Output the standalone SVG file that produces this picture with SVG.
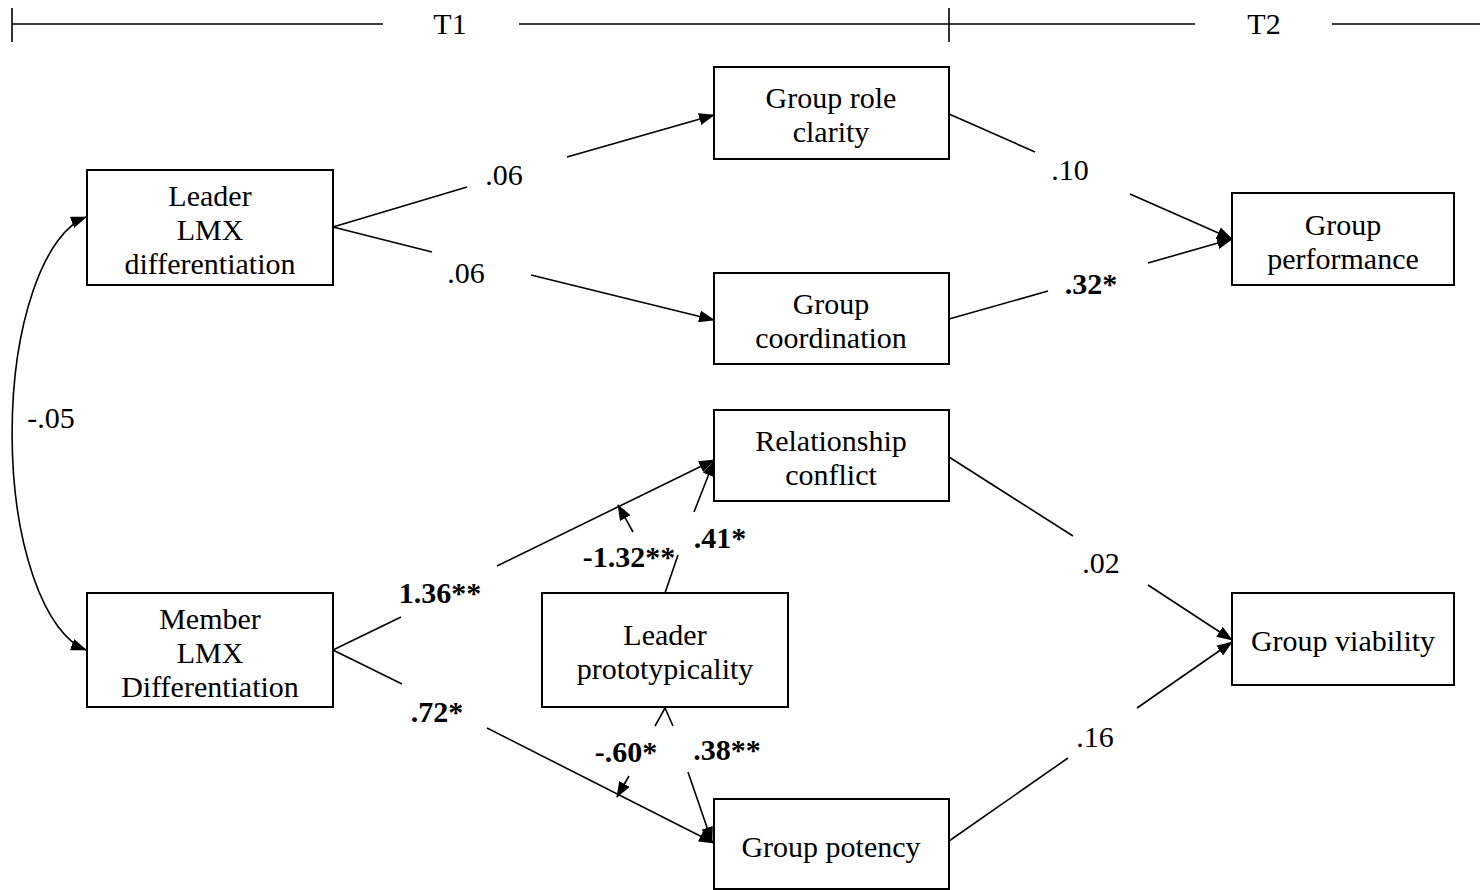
<svg xmlns="http://www.w3.org/2000/svg" width="1480" height="890" viewBox="0 0 1480 890">
<style>
.box{fill:#fff;stroke:#000;stroke-width:2}
.ln{fill:none;stroke:#000;stroke-width:1.6}
.arr{marker-end:url(#ah)}
text{font-family:"Liberation Serif","Times New Roman",serif;font-size:30px;fill:#000;text-anchor:middle}
.b{font-weight:bold}
</style>
<defs>
<marker id="ah" viewBox="0 0 16 12" markerWidth="16" markerHeight="12" refX="15" refY="6" orient="auto-start-reverse" markerUnits="userSpaceOnUse">
<path d="M0,0 L16,6 L0,12 z" fill="#000"/>
</marker>
</defs>
<rect width="1480" height="890" fill="#fff"/>
<g id="timeline">
<path class="ln" d="M12,24 H383 M519,24 H1195 M1332,24 H1480 M12,8 V42 M949,8 V42"/>
<text x="450" y="34">T1</text>
<text x="1264" y="34">T2</text>
</g>
<g id="connectors">
<path class="ln" d="M333,227 L467,187"/>
<path class="ln arr" d="M567,157 L714,115"/>
<path class="ln" d="M333,227 L432,252"/>
<path class="ln arr" d="M531,275 L714,320"/>
<path class="ln" d="M949,114 L1035,152"/>
<path class="ln arr" d="M1130,194 L1232,239"/>
<path class="ln" d="M949,319 L1048,291"/>
<path class="ln arr" d="M1148,263 L1232,239"/>
<path class="ln" d="M949,457 L1073,536"/>
<path class="ln arr" d="M1148,585 L1232,640"/>
<path class="ln" d="M949,841 L1068,758"/>
<path class="ln arr" d="M1137,708 L1232,642"/>
<path class="ln" d="M333,650 L401,617"/>
<path class="ln arr" d="M497,566 L714,460"/>
<path class="ln" d="M333,650 L402,684"/>
<path class="ln arr" d="M487,728 L714,843"/>
<path class="ln" d="M665,593 L678,555"/>
<path class="ln arr" d="M633,532 L618,505"/>
<path class="ln arr" d="M694,512 L714,461"/>
<path class="ln" d="M655,726 L665,708 L673,726"/>
<path class="ln arr" d="M629,776 L617,797"/>
<path class="ln arr" d="M688,772 L712,842"/>
<path class="ln" d="M86,217 A87 219 0 0 0 86,650" marker-start="url(#ah)" marker-end="url(#ah)"/>
<text x="504" y="185">.06</text>
<text x="466" y="283">.06</text>
<text x="1070" y="180">.10</text>
<text class="b" x="1091" y="294">.32*</text>
<text x="51" y="428">-.05</text>
<text class="b" x="440" y="603">1.36**</text>
<text class="b" x="629" y="567">-1.32**</text>
<text class="b" x="720" y="548">.41*</text>
<text class="b" x="437" y="722">.72*</text>
<text class="b" x="626" y="762">-.60*</text>
<text class="b" x="727" y="760">.38**</text>
<text x="1101" y="573">.02</text>
<text x="1095" y="747">.16</text>
</g>
<g id="role">
<rect class="box" x="714" y="67" width="235" height="92"/>
<text x="831" y="108">Group role</text>
<text x="831" y="142">clarity</text>
</g>
<g id="leader">
<rect class="box" x="87" y="170" width="246" height="115"/>
<text x="210" y="206">Leader</text>
<text x="210" y="240">LMX</text>
<text x="210" y="274">differentiation</text>
</g>
<g id="performance">
<rect class="box" x="1232" y="193" width="222" height="92"/>
<text x="1343" y="235">Group</text>
<text x="1343" y="269">performance</text>
</g>
<g id="coordination">
<rect class="box" x="714" y="273" width="235" height="91"/>
<text x="831" y="314">Group</text>
<text x="831" y="348">coordination</text>
</g>
<g id="conflict">
<rect class="box" x="714" y="410" width="235" height="91"/>
<text x="831" y="451">Relationship</text>
<text x="831" y="485">conflict</text>
</g>
<g id="member">
<rect class="box" x="87" y="593" width="246" height="114"/>
<text x="210" y="629">Member</text>
<text x="210" y="663">LMX</text>
<text x="210" y="697">Differentiation</text>
</g>
<g id="prototypicality">
<rect class="box" x="542" y="593" width="246" height="114"/>
<text x="665" y="645">Leader</text>
<text x="665" y="679">prototypicality</text>
</g>
<g id="viability">
<rect class="box" x="1232" y="593" width="222" height="92"/>
<text x="1343" y="651">Group viability</text>
</g>
<g id="potency">
<rect class="box" x="714" y="799" width="235" height="90"/>
<text x="831" y="857">Group potency</text>
</g>
</svg>
